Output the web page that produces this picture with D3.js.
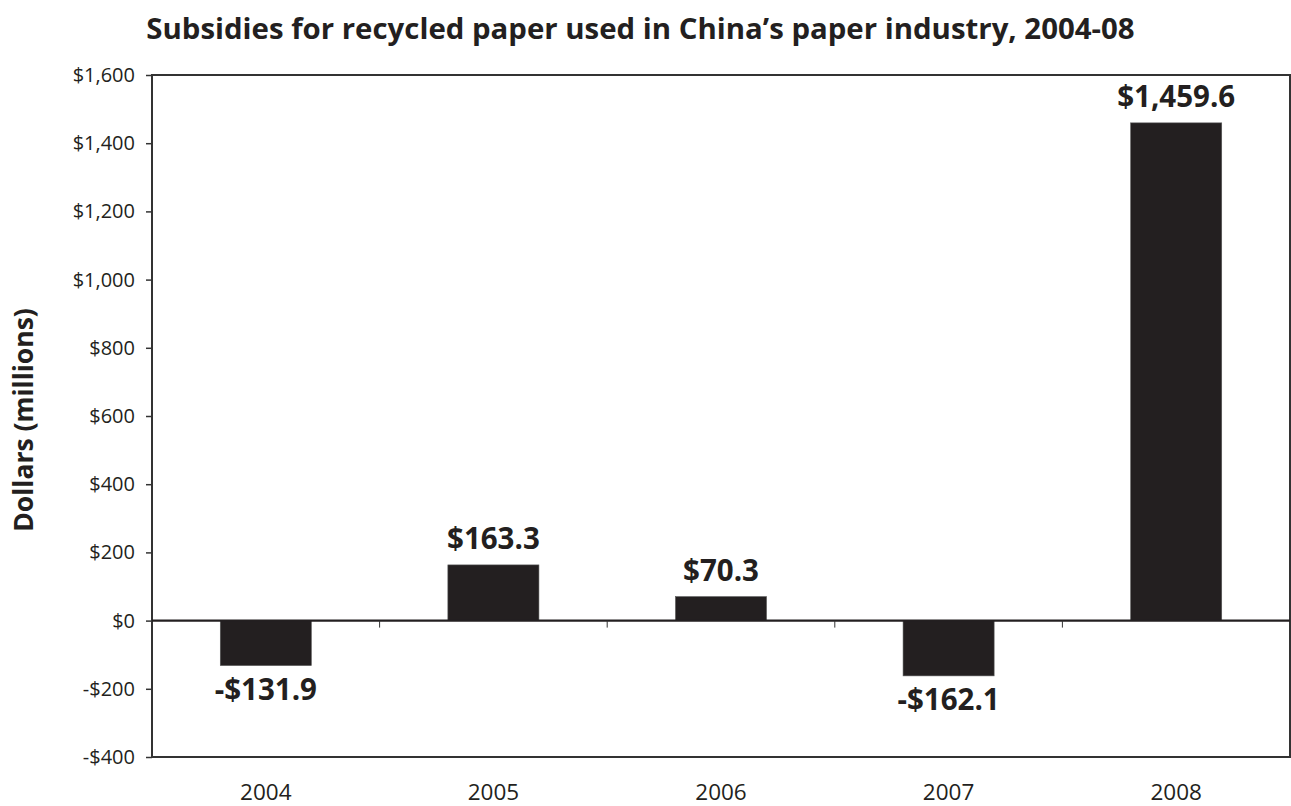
<!DOCTYPE html>
<html>
<head>
<meta charset="utf-8">
<script src="https://cdn.jsdelivr.net/npm/d3@7"></script>
<style>
  html, body { margin: 0; padding: 0; background: #fff; }
  svg text { font-family: "Open Sans", "Noto Sans", sans-serif; fill: #231f20; }
</style>
</head>
<body>
<svg id="chart" width="1291" height="806"></svg>
<script>
const categories = ["2004", "2005", "2006", "2007", "2008"];
const values = [-131.9, 163.3, 70.3, -162.1, 1459.6];
const valueLabels = ["-$131.9", "$163.3", "$70.3", "-$162.1", "$1,459.6"];
const yTicks = [-400, -200, 0, 200, 400, 600, 800, 1000, 1200, 1400, 1600];
const yTickLabels = ["-$400", "-$200", "$0", "$200", "$400", "$600", "$800", "$1,000", "$1,200", "$1,400", "$1,600"];
const title = "Subsidies for recycled paper used in China\u2019s paper industry, 2004-08";
const yTitle = "Dollars (millions)";

(function () {
const svg = d3.select("#chart");
const pLeft = 152, pRight = 1290, pTop = 75, pBottom = 757;
const ink = "#231f20";

const x = d3.scaleBand().domain(categories).range([pLeft, pRight]).paddingInner(0.6).paddingOuter(0.3);
const xb = d3.scaleBand().domain(categories).range([pLeft, pRight]);
const y = d3.scaleLinear().domain([-400, 1600]).range([pBottom, pTop]);

svg.append("text").attr("x", 640.5).attr("y", 39).attr("text-anchor", "middle")
  .attr("font-size", 29.4).attr("font-weight", "bold").text(title);

svg.append("text").attr("transform", `translate(33,420) rotate(-90)`)
  .attr("text-anchor", "middle").attr("font-size", 26.5).attr("font-weight", "bold").text(yTitle);

svg.append("g").selectAll("rect").data(values).join("rect")
  .attr("x", (d, i) => x(categories[i]))
  .attr("width", x.bandwidth())
  .attr("y", d => y(Math.max(0, d)))
  .attr("height", d => Math.abs(y(d) - y(0)))
  .attr("fill", ink)
  .attr("stroke", "#555").attr("stroke-width", 0.6);

svg.append("g").selectAll("text").data(values).join("text")
  .attr("x", (d, i) => x(categories[i]) + x.bandwidth() / 2)
  .attr("y", d => d >= 0 ? y(d) - 16 : y(d) + 34)
  .attr("text-anchor", "middle").attr("font-size", 29.5).attr("font-weight", "bold")
  .text((d, i) => valueLabels[i]);

svg.append("rect").attr("x", pLeft).attr("y", pTop).attr("width", pRight - pLeft).attr("height", pBottom - pTop)
  .attr("fill", "none").attr("stroke", "#333").attr("stroke-width", 2);

const yAxis = d3.axisLeft(y).tickValues(yTicks).tickSize(6).tickPadding(11)
  .tickFormat((d, i) => yTickLabels[i]);
const gy = svg.append("g").attr("transform", `translate(${pLeft},0)`).call(yAxis);
gy.attr("font-size", null).attr("font-family", null);
gy.select(".domain").remove();
gy.selectAll("line").attr("stroke", "#333").attr("stroke-width", 1.5);
gy.selectAll("text").attr("font-size", 20).attr("fill", ink);

svg.append("line").attr("x1", pLeft).attr("x2", pRight).attr("y1", y(0)).attr("y2", y(0))
  .attr("stroke", ink).attr("stroke-width", 2.2);

svg.append("g").selectAll("line").data(categories.slice(1)).join("line")
  .attr("x1", d => xb(d)).attr("x2", d => xb(d))
  .attr("y1", y(0)).attr("y2", y(0) + 7)
  .attr("stroke", "#333").attr("stroke-width", 1);

svg.append("g").selectAll("text").data(categories).join("text")
  .attr("x", d => xb(d) + xb.bandwidth() / 2).attr("y", 800)
  .attr("text-anchor", "middle").attr("font-size", 22.5).text(d => d);
})();
</script>
</body>
</html>
